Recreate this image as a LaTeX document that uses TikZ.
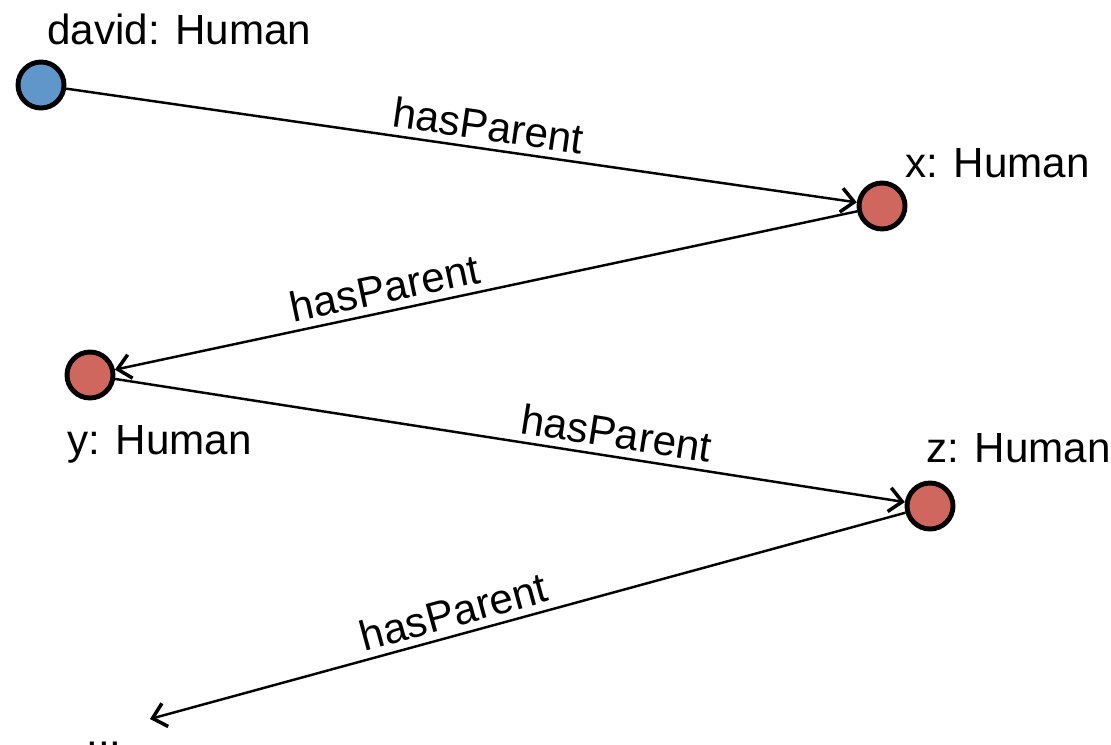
\documentclass[tikz,border=0pt]{standalone}
\usepackage{fontspec}
\setmainfont{Liberation Sans}
\usetikzlibrary{arrows.meta}
\definecolor{indblau}{HTML}{6097CB}
\definecolor{anonrot}{HTML}{CF675F}
\tikzset{
  ind/.style={circle,draw=black,line width=2.8pt,minimum size=0.92cm,inner sep=0pt},
  benannt/.style={ind,fill=indblau},
  anonym/.style={ind,fill=anonrot},
  typ/.style={anchor=base west,inner sep=0pt,font=\fontsize{24}{28}\selectfont},
  rel/.style={-{Straight Barb[length=2.6mm,width=4.8mm,line width=2pt]},line width=1.4pt},
  relname/.style={font=\fontsize{24}{28}\selectfont,sloped,above,inner sep=4pt},
}

\begin{document}
\begin{tikzpicture}[x=0.02cm,y=-0.02cm]
  \useasboundingbox (0,0) rectangle (1111,744);
  % individuen
  \node[benannt] (david) at (41,85) {};
  \node[anonym] (x) at (882,206) {};
  \node[anonym] (y) at (90,375) {};
  \node[anonym] (z) at (930,506) {};
  \coordinate (weiter) at (150,719);
  % typen
  \node[typ] (davidtyp) at (47,44) {david: Human};
  \node[typ] (xtyp) at (905,177) {x: Human};
  \node[typ] (ytyp) at (67,454) {y: Human};
  \node[typ] (ztyp) at (926,462) {z: Human};
  \node[typ] (punkte) at (86,746) {...};
  % kette
  \draw[rel] (david) -- (x) node[relname,pos=0.53]{hasParent};
  \draw[rel] (x) -- (y) node[relname,pos=0.63]{hasParent};
  \draw[rel] (y) -- (z) node[relname,pos=0.63]{hasParent};
  \draw[rel] (z) -- (weiter) node[relname,pos=0.59]{hasParent};
\end{tikzpicture}
\end{document}
